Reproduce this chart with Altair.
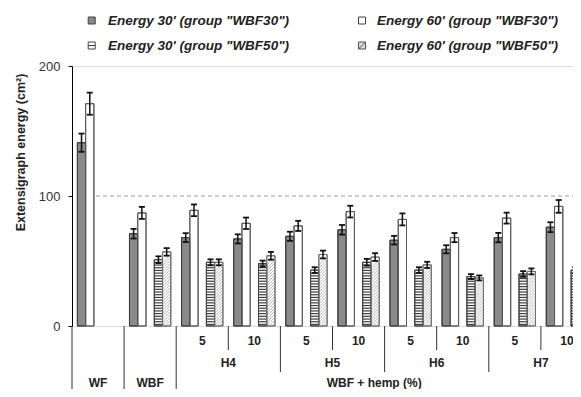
import altair as alt
import pandas as pd

# ---------------- data ----------------
categories = ["WF", "WBF", "H4-5", "H4-10", "H5-5", "H5-10", "H6-5", "H6-10", "H7-5", "H7-10"]
series_names = [
    'Energy 30\' (group "WBF30")',
    'Energy 60\' (group "WBF30")',
    'Energy 30\' (group "WBF50")',
    'Energy 60\' (group "WBF50")',
]
e30_wbf30 = [141, 71, 68, 67, 69, 74, 66, 59, 68, 76]
e30_wbf30_sd = [7.0, 3.7, 3.4, 3.5, 3.5, 3.7, 3.3, 3.1, 3.6, 3.8]
e60_wbf30 = [171, 87, 89, 79, 77, 88, 82, 68, 83, 92]
e60_wbf30_sd = [8.5, 4.6, 4.5, 4.4, 3.9, 4.5, 4.6, 3.5, 4.2, 4.9]
e30_wbf50 = [None, 51, 49, 48, 43, 49, 43, 38, 40, 43]
e30_wbf50_sd = [None, 2.6, 2.3, 2.3, 2.2, 2.6, 2.2, 1.9, 2.2, 2.3]
e60_wbf50 = [None, 57, 49, 54, 55, 53, 47, 37, 42, 45]
e60_wbf50_sd = [None, 2.9, 2.3, 3.0, 3.0, 3.0, 2.4, 1.9, 2.3, 2.5]

level1_labels = ["5", "10", "5", "10", "5", "10", "5", "10"]
level2_labels = ["H4", "H5", "H6", "H7"]
level3_labels = ["WF", "WBF"]
hemp_label = "WBF + hemp (%)"
y_title = "Extensigraph energy (cm²)"
y_ticks = [0, 100, 200]
reference_value = 100

# ---------------- tables ----------------
vals = [e30_wbf30, e60_wbf30, e30_wbf50, e60_wbf50]
sds = [e30_wbf30_sd, e60_wbf30_sd, e30_wbf50_sd, e60_wbf50_sd]
rows = []
for s, v, sd in zip(series_names, vals, sds):
    for c, a, b in zip(categories, v, sd):
        if a is None:
            continue
        rows.append(dict(cat=c, series=s, v=a, lo=a - b, hi=a + b))
df = pd.DataFrame(rows)

W, H = 521, 260
PX = H / 200.0  # pixels per unit

FONT = "Liberation Sans"
INK = "#222222"

xscale = alt.Scale(domain=categories, paddingInner=0, paddingOuter=0)
xo_domain = [series_names[0], series_names[1], "_gap", series_names[2], series_names[3]]
xoscale = alt.Scale(domain=xo_domain, paddingInner=0, paddingOuter=0.65)
yscale = alt.Scale(domain=[0, 200], nice=False, zero=True)
fill_scale = alt.Scale(domain=series_names, range=["#8a8a8a", "#ffffff", "#ffffff", "#ffffff"])
stroke_scale = alt.Scale(domain=series_names, range=["#3c3c3c", "#5a5a5a", "#404040", "#707070"])

yaxis = alt.Axis(
    values=y_ticks, tickSize=4, labelPadding=8, grid=False,
    domainColor="black", tickColor="black", labelColor="#333333",
    labelFontSize=13, labelFont=FONT,
    title=y_title, titleFont=FONT, titleFontSize=12.5, titleFontWeight="bold",
    titleColor=INK, titleX=-52, titleY=86, titleBaseline="middle", titleAlign="center",
)


def X(field="cat", **kw):
    return alt.X(f"{field}:N", scale=xscale, axis=None, **kw)


def Y(field):
    return alt.Y(f"{field}:Q", scale=yscale, axis=yaxis)


XO = alt.XOffset("series:N", scale=xoscale)

base = alt.Chart(df)

# dashed reference line at 100
ref_df = pd.DataFrame({"start": [categories[0]], "v": [reference_value]})
ref = alt.Chart(ref_df).mark_rule(color="#9a9a9a", strokeDash=[4, 3], strokeWidth=1).encode(
    x=alt.X("start:N", scale=xscale, axis=None, bandPosition=0.46),
    x2=alt.value("width"),
    y=Y("v"),
)

bars = base.mark_bar(strokeWidth=1).encode(
    x=X(), xOffset=XO, y=Y("v"),
    fill=alt.Fill("series:N", scale=fill_scale, legend=None),
    stroke=alt.Stroke("series:N", scale=stroke_scale, legend=None),
)

# horizontal stripes for "Energy 30' (group WBF50)"
stripes = (
    base.transform_filter(alt.datum.series == series_names[2])
    .transform_calculate(k=f"sequence(1.2, datum.v - 0.6, {2.7 / PX})")
    .transform_flatten(["k"])
    .mark_tick(orient="horizontal", thickness=1.2, size=8.3, color="#3c3c3c", opacity=1)
    .encode(x=X(), xOffset=XO, y=Y("k"))
)

# diagonal hatch for "Energy 60' (group WBF50)"
half = 8.27 / 2 / PX
hatch = (
    base.transform_filter(alt.datum.series == series_names[3])
    .transform_calculate(k=f"sequence({-half}, datum.v - {half}, {3.0 / PX})")
    .transform_flatten(["k"])
    .mark_point(shape="M-1,1L1,-1", size=8.27 ** 2, filled=False, strokeWidth=0.7,
                color="#9a9a9a", opacity=1, clip=True)
    .encode(x=X(), xOffset=XO, y=Y("k"))
)

outline = base.mark_bar(fillOpacity=0, strokeWidth=1).encode(
    x=X(), xOffset=XO, y=Y("v"),
    stroke=alt.Stroke("series:N", scale=stroke_scale, legend=None),
)

err = base.mark_rule(color="#111111", strokeWidth=1.5).encode(
    x=X(), xOffset=XO, y=Y("lo"), y2="hi:Q",
)
caps = (
    base.transform_fold(["lo", "hi"], as_=["end", "yy"])
    .mark_tick(orient="horizontal", thickness=1.8, size=6, color="#111111", opacity=1)
    .encode(x=X(), xOffset=XO, y=Y("yy"))
)

# ---------------- category table below the axis ----------------
txt = dict(font=FONT, fontSize=12, fontWeight="bold", color=INK, baseline="middle", align="center")
ROW1, ROW2, ROW3 = 275, 297, 317

row1_df = pd.DataFrame({"cat": categories[2:], "label": level1_labels})
row1 = alt.Chart(row1_df).mark_text(**txt).encode(x=X(), y=alt.value(ROW1), text="label:N")

row2_df = pd.DataFrame({"cat": categories[2::2], "label": level2_labels})
row2 = alt.Chart(row2_df).mark_text(**txt).encode(x=X(bandPosition=1), y=alt.value(ROW2), text="label:N")

row3_df = pd.DataFrame({"cat": categories[:2], "label": level3_labels})
row3 = alt.Chart(row3_df).mark_text(**txt).encode(x=X(), y=alt.value(ROW3), text="label:N")

row3b_df = pd.DataFrame({"cat": [categories[5]], "label": [hemp_label]})
row3b = alt.Chart(row3b_df).mark_text(**txt).encode(x=X(bandPosition=0.8), y=alt.value(ROW3), text="label:N")

sep_style = dict(color="#333333", strokeWidth=1)
long_df = pd.DataFrame({"cat": categories[:3]})
long_sep = alt.Chart(long_df).mark_rule(**sep_style).encode(
    x=X(bandPosition=0), y=alt.value(H), y2=alt.value(H + 80))
mid_df = pd.DataFrame({"cat": categories[4::2]})
mid_sep = alt.Chart(mid_df).mark_rule(**sep_style).encode(
    x=X(bandPosition=0), y=alt.value(H), y2=alt.value(306))
short_df = pd.DataFrame({"cat": categories[3::2]})
short_sep = alt.Chart(short_df).mark_rule(**sep_style).encode(
    x=X(bandPosition=0), y=alt.value(H), y2=alt.value(284))

# ---------------- legend (2 x 2) ----------------
legend_shapes = [
    "M-1,-1H1V1H-1Z",
    "M-1,-1H1V1H-1Z",
    "M-1,-1H1V1H-1Z M-1,0H1",
    "M-1,-1H1V1H-1Z M-1,1L1,-1",
]
legend_fills = ["#8a8a8a", "#ffffff", "#ffffff", "#dddddd"]
legend_strokes = ["#404040", "#404040", "#404040", "#505050"]
col_sym_x = [19.7, 290]
col_txt_x = [36, 305]
row_y = [-45.5, -20.5]
legend_layers = []
for i, name in enumerate(series_names):
    c, r = i % 2, i // 2
    ldf = pd.DataFrame({"series": [name]})
    legend_layers.append(
        alt.Chart(ldf).mark_point(shape=legend_shapes[i], size=49, filled=True, opacity=1,
                                  fill=legend_fills[i], stroke=legend_strokes[i], strokeWidth=1)
        .encode(x=alt.value(col_sym_x[c]), y=alt.value(row_y[r]))
    )
    legend_layers.append(
        alt.Chart(ldf).mark_text(align="left", baseline="middle", font=FONT, fontSize=13.5,
                                 fontStyle="italic", fontWeight="bold", color=INK)
        .encode(x=alt.value(col_txt_x[c]), y=alt.value(row_y[r]), text="series:N")
    )

chart = (
    alt.layer(ref, bars, stripes, hatch, outline, err, caps,
              row1, row2, row3, row3b, long_sep, mid_sep, short_sep, *legend_layers)
    .properties(width=W, height=H,
                autosize=alt.AutoSizeParams(type="none"),
                padding={"left": 64, "top": 58, "right": -20, "bottom": 63})
    .configure_view(stroke="black", strokeWidth=1)
    .configure(font=FONT)
)

chart.save("out.html", embed_options={"renderer": "svg", "actions": False})
